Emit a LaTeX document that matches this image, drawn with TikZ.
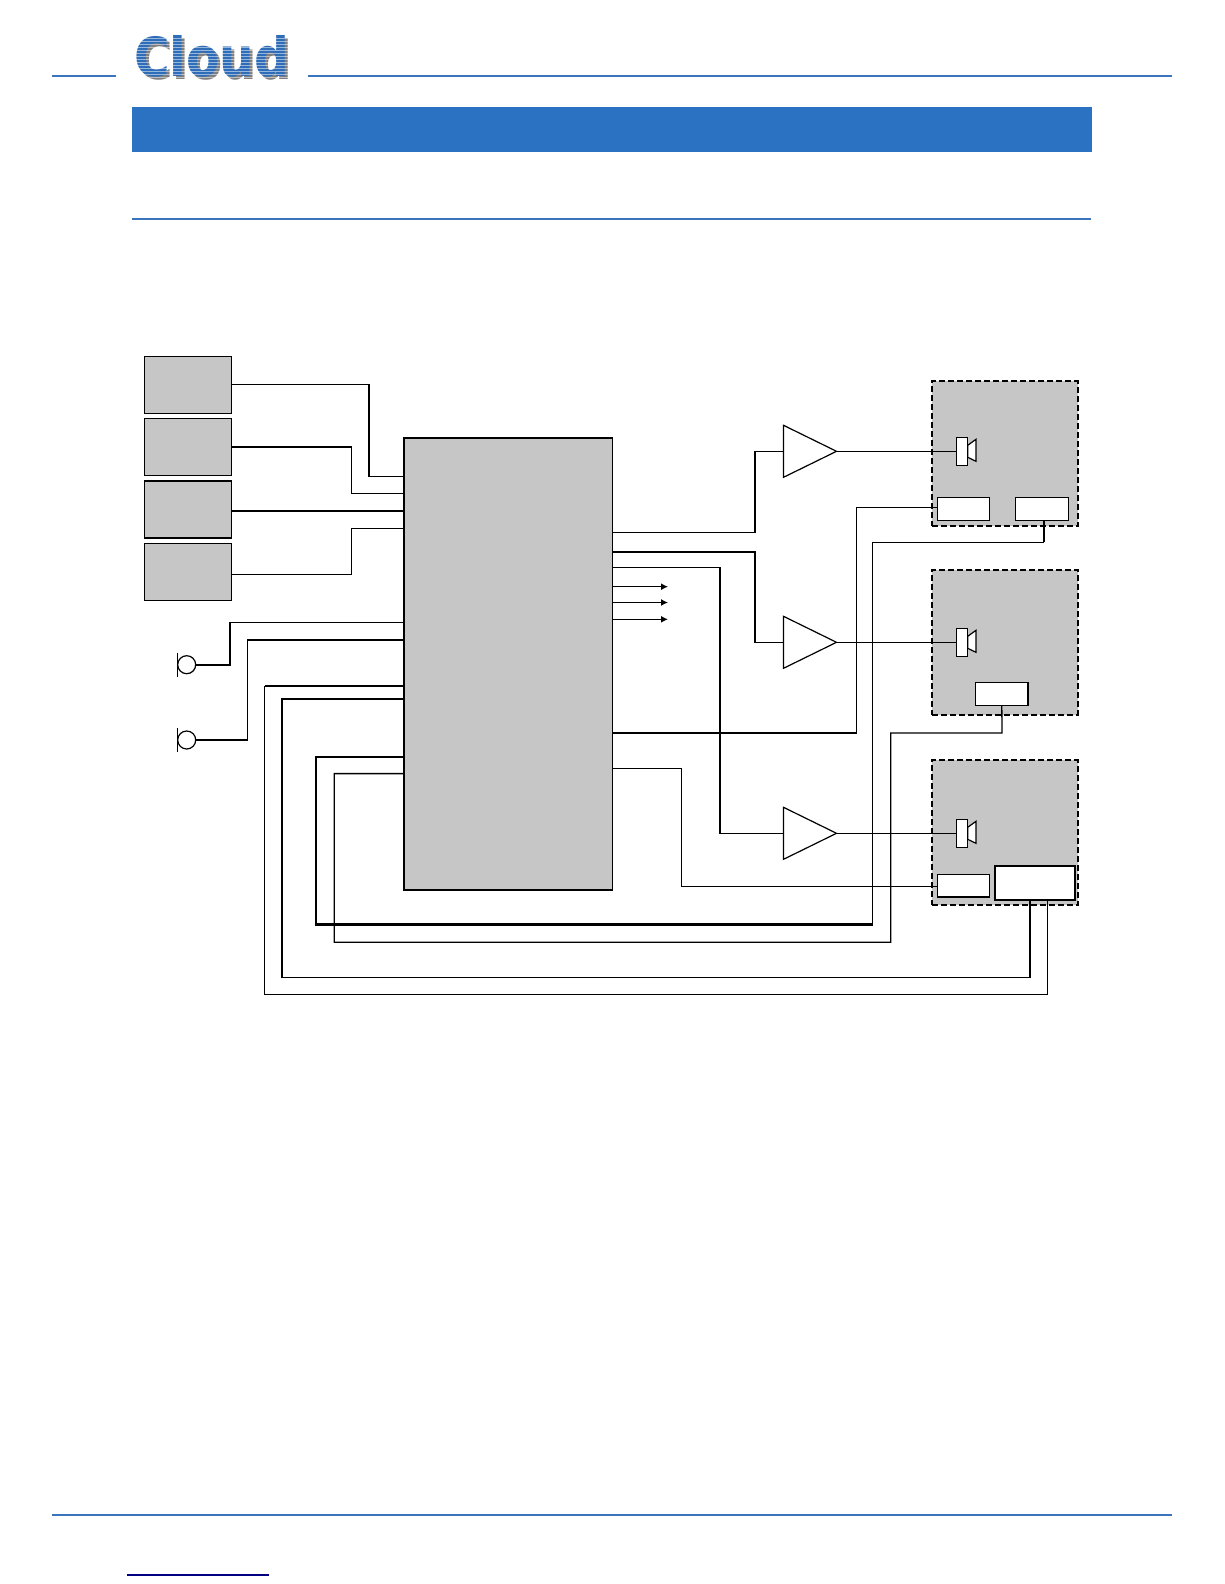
\documentclass[tikz,border=0pt]{standalone}
\usepackage{fontspec}
\setmainfont{DejaVu Sans}
\usetikzlibrary{shapes.geometric,arrows.meta}
\definecolor{cloudblue}{HTML}{2F6DB8}
\definecolor{rulecol}{HTML}{3A74BA}
\definecolor{barblue}{HTML}{2B73C2}
\definecolor{panel}{HTML}{C6C6C6}
\definecolor{linknavy}{HTML}{000080}
\tikzset{
  rule/.style={draw=rulecol,line width=2pt},
  wire/.style={draw=black,line width=1.3pt,line join=miter},
  thickwire/.style={draw=black,line width=2.1pt,line join=miter},
  srcbox/.style={draw=black,fill=panel,line width=1.2pt,minimum width=87,minimum height=57,inner sep=0,outer sep=0,anchor=north west},
  encl/.style={draw=black,fill=panel,line width=1.8pt,dash pattern=on 6pt off 3pt,minimum width=145.7,minimum height=144.6,inner sep=0,outer sep=0,anchor=north west},
  port/.style={draw=black,fill=white,line width=1.5pt,minimum height=22.6,inner sep=0,outer sep=0,anchor=north west},
  amp/.style={draw=black,fill=white,line width=1.2pt,isosceles triangle,isosceles triangle stretches,minimum width=52,minimum height=53,inner sep=0,outer sep=0,anchor=west},
  spk/.style={draw=black,fill=white,line width=1.4pt,minimum width=11,minimum height=28,inner sep=0,outer sep=0},
  cone/.style={draw=black,fill=white,line width=1.2pt,line join=miter},
  mic/.style={circle,draw=black,fill=white,line width=1.2pt,minimum size=18,inner sep=0,outer sep=0},
  micbar/.style={draw=black,line width=1.4pt},
  logotext/.style={inner sep=0,outer sep=0,xscale=.9,font=\fontsize{54}{54}\bfseries\selectfont,anchor=base west},
  sig/.style={wire,-{Latex[length=7pt,width=7pt]}},
}
\begin{document}
\begin{tikzpicture}[x=1pt,y=-1pt]
\useasboundingbox[fill=white] (0,0) rectangle (1224,1584);

% header rules and logo
\coordinate (hl1) at (52,75.7); \coordinate (hl2) at (116,75.7);
\coordinate (hr1) at (308,75.7); \coordinate (hr2) at (1172,75.7);
\draw[rule] (hl1) -- (hl2);
\draw[rule] (hr1) -- (hr2);
\node[logotext,text=black!50] (logoshadow) at (137,79.5) {Cloud};
\node[logotext,text=cloudblue] (logo) at (134,76.5) {Cloud};
\foreach \yy in {38,41,...,80} \draw[white,opacity=.5,line width=.8pt] (130,\yy) -- (292,\yy);
\fill[barblue] (132,107) rectangle (1092,152);
\draw[rule] (132,218.7) -- (1091,218.7);

% footer
\draw[rule] (52,1514.7) -- (1172,1514.7);
\draw[linknavy,line width=1.2pt] (127,1575) -- (269,1575);

% sources
\node[srcbox] (s1) at (144.3,356.3) {};
\node[srcbox] (s2) at (144.3,418.7) {};
\node[srcbox] (s3) at (144.3,481) {};
\node[srcbox] (s4) at (144.3,543.3) {};

% central unit
\node[draw=black,fill=panel,line width=1.7pt,minimum width=208.5,minimum height=452.5,inner sep=0,outer sep=0,anchor=north west] (main) at (404,437.7) {};

% enclosures
\node[encl] (z1) at (932,381.3) {};
\node[encl] (z2) at (932,570) {};
\node[encl] (z3) at (932,760.3) {};

% ports
\node[port,minimum width=52.4] (p1a) at (937.3,497.7) {};
\node[port,minimum width=53] (p1b) at (1015.7,497.7) {};
\node[port,minimum width=52.4] (p2) at (975.6,682.7) {};
\node[port,minimum width=52.4] (p3a) at (937.3,874.3) {};
\node[port,minimum width=80.6,minimum height=34.6,line width=2pt] (p3b) at (994.7,865.7) {};

% amplifiers
\node[amp] (a1) at (783.5,451.3) {};
\node[amp] (a2) at (783.5,642.3) {};
\node[amp] (a3) at (783.5,833.3) {};

% speakers
\node[spk] (sp1) at (962.2,451.3) {};
\node[spk] (sp2) at (962.2,642.3) {};
\node[spk] (sp3) at (962.2,833.3) {};
\foreach \n in {sp1,sp2,sp3}
  \draw[cone] (\n.east) ++(0,-6) -- ++(8.3,-6) -- ++(0,22) -- ++(-8.3,-4) -- cycle;

% microphones
\node[mic] (m1) at (186.7,664.7) {};
\node[mic] (m2) at (186.7,740) {};
\draw[micbar] (m1.west) ++(0,-12) -- ++(0,24);
\draw[micbar] (m2.west) ++(0,-12) -- ++(0,24);

% source wires
\draw[wire] (s1.east |- 0,384.3) -- (369,384.3) -- (369,476.3) -- (main.west |- 0,476.3);
\draw[thickwire] (369,384.3) -- (369,476.3);
\draw[thickwire] (s2.east |- 0,447.2) -- (351.7,447.2);
\draw[wire] (351.7,447.2) -- (351.7,493.3) -- (main.west |- 0,493.3);
\draw[thickwire] (s3.east |- 0,511) -- (main.west |- 0,511);
\draw[wire] (s4.east |- 0,574.3) -- (351.7,574.3) -- (351.7,528.3) -- (main.west |- 0,528.3);

% mic wires
\draw[thickwire] (m1.east) -- (230,664.7) -- (230,622.3);
\draw[wire] (230,622.3) -- (main.west |- 0,622.3);
\draw[wire] (m2.east) -- (247.3,740) -- (247.3,640);
\draw[thickwire] (247.3,640) -- (main.west |- 0,640);

% loops
\draw[wire] (264.7,686) -- (264.7,994.5) -- (1047.3,994.5) -- (p3b.south -| 1047.3,0);
\draw[thickwire] (main.west |- 0,686) -- (264.7,686);
\draw[wire] (282,977.7) -- (1030,977.7);
\draw[thickwire] (main.west |- 0,699) -- (282,699) -- (282,977.7);
\draw[thickwire] (1030,977.7) -- (p3b.south -| 1030,0);
\draw[thickwire] (main.west |- 0,756.7) -- (316.3,756.7) -- (316.3,924.5) -- (872.6,924.5);
\draw[wire] (872.6,924.5) -- (872.6,542.3) -- (1044.3,542.3);
\draw[thickwire] (1044.3,542.3) -- (p1b.south -| 1044.3,0);
\draw[wire] (main.west |- 0,773.6) -- (334.3,773.6) -- (334.3,942.2) -- (890.7,942.2) -- (890.7,733) -- (1002,733) -- (p2.south);

% outputs
\draw[wire] (main.east |- 0,532.7) -- (755,532.7) -- (755,451.3) -- (a1.west);
\draw[wire] (main.east |- 0,552) -- (755,552) -- (755,642.3) -- (a2.west);
\draw[wire] (main.east |- 0,567.3) -- (720,567.3) -- (720,833.3) -- (a3.west);
\draw[wire] (main.east |- 0,733) -- (856.4,733) -- (856.4,507.3) -- (p1a.west |- 0,507.3);
\draw[wire] (main.east |- 0,768.5) -- (681.7,768.5) -- (681.7,886.3) -- (p3a.west |- 0,886.3);
\coordinate (o1) at (668,586.7); \coordinate (o2) at (668,602.5); \coordinate (o3) at (668,619.3);
\draw[sig] (main.east |- o1) -- (o1);
\draw[sig] (main.east |- o2) -- (o2);
\draw[sig] (main.east |- o3) -- (o3);

% amp to speaker
\draw[wire] (a1.apex) -- (sp1.west);
\draw[wire] (a2.apex) -- (sp2.west);
\draw[wire] (a3.apex) -- (sp3.west);
\end{tikzpicture}
\end{document}
